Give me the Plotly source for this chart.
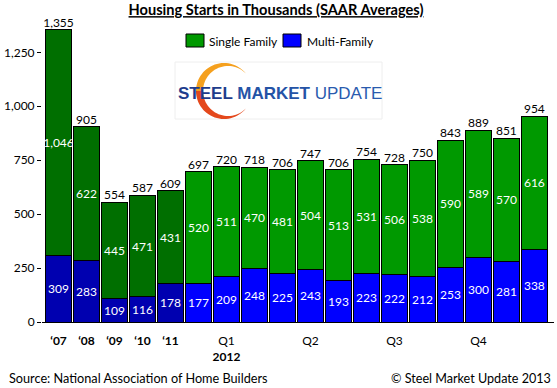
import math
import plotly.graph_objects as go

# ---------------- data ----------------
categories = ["2007", "2008", "2009", "2010", "2011",
              "Jan 12", "Feb 12", "Mar 12", "Apr 12", "May 12", "Jun 12",
              "Jul 12", "Aug 12", "Sep 12", "Oct 12", "Nov 12", "Dec 12", "Jan 13"]
single_family = [1046, 622, 445, 471, 431,
                 520, 511, 470, 481, 504, 513, 531, 506, 538, 590, 589, 570, 616]
multi_family = [309, 283, 109, 116, 178,
                177, 209, 248, 225, 243, 193, 223, 222, 212, 253, 300, 281, 338]
totals = [1355, 905, 554, 587, 609,
          697, 720, 718, 706, 747, 706, 754, 728, 750, 843, 889, 851, 954]
is_annual = [True] * 5 + [False] * 13
tick_categories = ["2007", "2008", "2009", "2010", "2011",
                   "Feb 12", "May 12", "Aug 12", "Nov 12"]
tick_labels = ["<b>\u201807</b>", "<b>\u201808</b>", "<b>\u201809</b>",
               "<b>\u201810</b>", "<b>\u201811</b>",
               "Q1<br><b>2012</b>", "Q2", "Q3", "Q4"]
y_ticks = [0, 250, 500, 750, 1000, 1250]

# ---------------- styling ----------------
FONT = "Lato"
SF_DARK, SF_BRIGHT = "#006F00", "#009900"
MF_DARK, MF_BRIGHT = "#0000B0", "#0000FF"
sf_colors = [SF_DARK if a else SF_BRIGHT for a in is_annual]
mf_colors = [MF_DARK if a else MF_BRIGHT for a in is_annual]

W, H = 557, 388
ML, MR, MT, MB = 42, 3, 20, 66
PW, PH = W - ML - MR, H - MT - MB


def X(px):
    return (px - ML) / PW


def Y(py):
    return (H - MB - py) / PH


fig = go.Figure()
fig.add_trace(go.Bar(
    x=categories, y=multi_family, name="Multi-Family",
    marker=dict(color=mf_colors, line=dict(color="black", width=1)),
    texttemplate="%{y:,}", textposition="inside", insidetextanchor="middle",
    textangle=0, constraintext="none",
    textfont=dict(color="white", size=12, family=FONT), showlegend=False,
))
fig.add_trace(go.Bar(
    x=categories, y=single_family, name="Single Family",
    marker=dict(color=sf_colors, line=dict(color="black", width=1)),
    texttemplate="%{y:,}", textposition="inside", insidetextanchor="middle",
    textangle=0, constraintext="none",
    textfont=dict(color="white", size=12, family=FONT), showlegend=False,
))
fig.add_trace(go.Scatter(
    x=categories, y=totals, mode="text", texttemplate="%{y:,}",
    textposition="top center", textfont=dict(color="black", size=12, family=FONT),
    showlegend=False, hoverinfo="skip", cliponaxis=False,
))

shapes = []
annotations = []

# legend (drawn manually)
for x0, x1, col, tx, label in [(186, 204, SF_BRIGHT, 207, "Single Family"),
                               (283, 301, MF_BRIGHT, 305, "Multi-Family")]:
    shapes.append(dict(type="rect", xref="paper", yref="paper",
                       x0=X(x0), x1=X(x1), y0=Y(47), y1=Y(34),
                       fillcolor=col, line=dict(color="black", width=1)))
    annotations.append(dict(text=label, xref="paper", yref="paper", x=X(tx), y=Y(41),
                            xanchor="left", yanchor="middle", showarrow=False,
                            font=dict(family=FONT, size=12, color="black")))

# logo: faint frame, crescent and wordmark
shapes.append(dict(type="rect", xref="paper", yref="paper",
                   x0=X(175), x1=X(382), y0=Y(119), y1=Y(62),
                   fillcolor="white", line=dict(color="#eeeeee", width=1)))
R, d, ri = 28, 4, 25
xt = (R * R - ri * ri + d * d) / (2 * d)
yt = math.sqrt(R * R - xt * xt)
a_out = math.degrees(math.atan2(yt, xt))
a_in = math.degrees(math.atan2(yt, xt - d))


def half_path(sign):
    pts = []
    n = 30
    for i in range(n + 1):
        a = math.radians(a_out + (180 - a_out) * i / n)
        pts.append((R * math.cos(a), sign * R * math.sin(a)))
    for i in range(n + 1):
        a = math.radians(180 - (180 - a_in) * i / n)
        pts.append((d + ri * math.cos(a), sign * ri * math.sin(a)))
    return "M" + " L".join(f"{px:.2f},{py:.2f}" for px, py in pts) + " Z"


for sign, col in [(1, "#F5A01E"), (-1, "#E4481C")]:
    shapes.append(dict(type="path", xref="paper", yref="paper",
                       xsizemode="pixel", ysizemode="pixel",
                       xanchor=X(224), yanchor=Y(91), path=half_path(sign),
                       fillcolor=col, line=dict(width=0)))

annotations.append(dict(
    text="<b><span style='color:#1E3C8C'>STEEL</span> "
         "<span style='color:#2453A6'>MARKET</span></b> "
         "<span style='color:#2A5BAE'>UPDATE</span>",
    xref="paper", yref="paper", x=X(280), y=Y(93), xanchor="center", yanchor="middle",
    showarrow=False, font=dict(family="Liberation Sans", size=17)))

# footer
annotations.append(dict(text="Source: National Association of Home Builders",
                        xref="paper", yref="paper", x=X(7), y=Y(378),
                        xanchor="left", yanchor="middle", showarrow=False,
                        font=dict(family=FONT, size=12.7, color="black")))
annotations.append(dict(text="\u00a9 Steel Market Update 2013",
                        xref="paper", yref="paper", x=X(553), y=Y(378),
                        xanchor="right", yanchor="middle", showarrow=False,
                        font=dict(family=FONT, size=12.6, color="black")))

fig.update_layout(
    width=W, height=H, barmode="stack", bargap=0.06,
    margin=dict(l=ML, r=MR, t=MT, b=MB, autoexpand=False),
    paper_bgcolor="white", plot_bgcolor="white",
    font=dict(family=FONT, size=12, color="black"),
    title=dict(text="<b><u>Housing Starts in Thousands (SAAR Averages)</u></b>",
               x=276 / W, xref="container", xanchor="center",
               y=1 - 10 / H, yref="container", yanchor="middle",
               font=dict(family=FONT, size=14.6, color="black")),
    xaxis=dict(type="category", categoryorder="array", categoryarray=categories,
               range=[-0.59, 17.7], tickmode="array", tickvals=tick_categories,
               ticktext=tick_labels, showline=True, linecolor="black", linewidth=1,
               ticks="", showgrid=False, zeroline=False, ticklabelstandoff=8,
               tickfont=dict(family=FONT, size=12, color="black")),
    yaxis=dict(range=[0, 1400], tickmode="array", tickvals=y_ticks, tickformat=",",
               ticks="outside", ticklen=4, tickcolor="black", showline=False,
               showgrid=False, zeroline=False,
               tickfont=dict(family=FONT, size=12, color="black")),
    shapes=shapes, annotations=annotations,
)

fig.write_html("out.html", config={"displayModeBar": False},
               post_script="document.body.style.margin='0';"
                           "document.body.style.overflow='hidden';")
